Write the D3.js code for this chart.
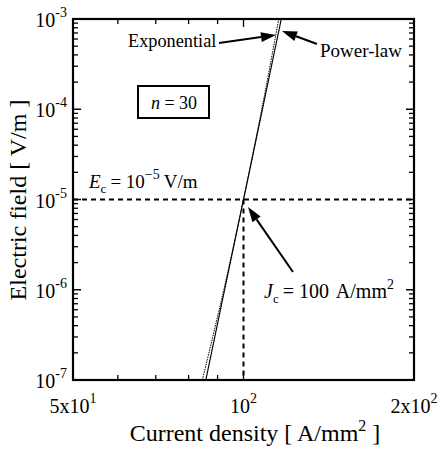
<!DOCTYPE html>
<html><head><meta charset="utf-8">
<script src="https://cdn.jsdelivr.net/npm/d3@7"></script>
<style>body{margin:0;background:#fff}svg{display:block}text{font-family:"Liberation Serif","Times New Roman",serif;fill:#000}</style>
</head><body>
<script>
// Data
const fieldLevels = [1e-7, 1e-6, 1e-5, 1e-4, 1e-3];           // E [V/m]
const powerLawJ   = [85.8, 92.6, 100, 108.0, 116.6];           // J [A/mm2]
const exponentialJ= [84.6, 92.3, 100, 107.7, 115.4];           // J [A/mm2]
const criticalE = 1e-5;
const criticalJ = 100;
const yTickExps = [-3, -4, -5, -6, -7];
const xTickLabels = [{v:50, pre:"5x10", sup:"1"}, {v:100, pre:"10", sup:"2"}, {v:200, pre:"2x10", sup:"2"}];
const xMinorTicks = [60, 70, 80, 90, 100];

const W = 444, H = 449;
const m = {l:73, r:414, t:19, b:380};
const svg = d3.select("body").append("svg").attr("width", W).attr("height", H);
const x = d3.scaleLog().domain([50, 200]).range([m.l, m.r]);
const y = d3.scaleLog().domain([1e-7, 1e-3]).range([m.b, m.t]);

// minor y ticks
const yMinor = [];
for (let e = -7; e < -3; e++) for (let k = 2; k <= 9; k++) yMinor.push(k * Math.pow(10, e));
const g = svg.append("g");
yMinor.forEach(v => {
  g.append("line").attr("x1", m.l).attr("x2", m.l + 5).attr("y1", y(v)).attr("y2", y(v)).attr("stroke", "#000").attr("stroke-width", 1.3);
  g.append("line").attr("x1", m.r).attr("x2", m.r - 5).attr("y1", y(v)).attr("y2", y(v)).attr("stroke", "#000").attr("stroke-width", 1.3);
});
yTickExps.forEach(e => {
  const v = Math.pow(10, e);
  g.append("line").attr("x1", m.l).attr("x2", m.l + 8).attr("y1", y(v)).attr("y2", y(v)).attr("stroke", "#000").attr("stroke-width", 1.5);
  g.append("line").attr("x1", m.r).attr("x2", m.r - 8).attr("y1", y(v)).attr("y2", y(v)).attr("stroke", "#000").attr("stroke-width", 1.5);
  const t = svg.append("text").attr("x", m.l - 6).attr("y", y(v) + 8).attr("text-anchor", "end").attr("font-size", 20);
  t.append("tspan").text("10");
  t.append("tspan").attr("dy", -10).attr("font-size", 14).text("-" + (-e));
});
xMinorTicks.forEach(v => {
  const len = v === 100 ? 8 : 5;
  g.append("line").attr("x1", x(v)).attr("x2", x(v)).attr("y1", m.b).attr("y2", m.b - len).attr("stroke", "#000").attr("stroke-width", 1.3);
  g.append("line").attr("x1", x(v)).attr("x2", x(v)).attr("y1", m.t).attr("y2", m.t + len).attr("stroke", "#000").attr("stroke-width", 1.3);
});
xTickLabels.forEach(d => {
  const t = svg.append("text").attr("x", x(d.v)).attr("y", 413).attr("text-anchor", "middle").attr("font-size", 20);
  t.append("tspan").text(d.pre);
  t.append("tspan").attr("dy", -10).attr("font-size", 14).text(d.sup);
});

// reference dashed lines
svg.append("line").attr("x1", m.l).attr("x2", m.r).attr("y1", y(criticalE)).attr("y2", y(criticalE))
  .attr("stroke", "#000").attr("stroke-width", 2).attr("stroke-dasharray", "5,4");
svg.append("line").attr("x1", x(criticalJ)).attr("x2", x(criticalJ)).attr("y1", y(criticalE)).attr("y2", m.b)
  .attr("stroke", "#000").attr("stroke-width", 2).attr("stroke-dasharray", "5,4");

// curves
const line = d3.line().x(d => x(d[0])).y(d => y(d[1])).curve(d3.curveMonotoneY);
svg.append("path").datum(exponentialJ.map((j, i) => [j, fieldLevels[i]]))
  .attr("d", line).attr("fill", "none").attr("stroke", "#000").attr("stroke-width", 1).attr("stroke-dasharray", "1.5,1");
svg.append("path").datum(powerLawJ.map((j, i) => [j, fieldLevels[i]]))
  .attr("d", line).attr("fill", "none").attr("stroke", "#000").attr("stroke-width", 1.2);

// frame
svg.append("rect").attr("x", m.l).attr("y", m.t).attr("width", m.r - m.l).attr("height", m.b - m.t)
  .attr("fill", "none").attr("stroke", "#000").attr("stroke-width", 2.2);

// arrows
function arrow(x1, y1, x2, y2) {
  const a = Math.atan2(y2 - y1, x2 - x1), L = 15, w = 5;
  const bx = x2 - L * Math.cos(a), by = y2 - L * Math.sin(a);
  svg.append("line").attr("x1", x1).attr("y1", y1).attr("x2", bx).attr("y2", by).attr("stroke", "#000").attr("stroke-width", 2);
  svg.append("path").attr("d", `M${x2},${y2}L${bx - w * Math.sin(a)},${by + w * Math.cos(a)}L${bx + w * Math.sin(a)},${by - w * Math.cos(a)}Z`).attr("fill", "#000");
}
arrow(219, 43, 276, 35);
arrow(317, 44, 282, 31);
arrow(293, 272, 248, 207);

// labels
svg.append("text").attr("x", 128).attr("y", 47).attr("font-size", 18.3).text("Exponential");
svg.append("text").attr("x", 320).attr("y", 57).attr("font-size", 19).text("Power-law");

svg.append("rect").attr("x", 138).attr("y", 86).attr("width", 71).attr("height", 32).attr("fill", "#fff").attr("stroke", "#000").attr("stroke-width", 2);
const nt = svg.append("text").attr("x", 174).attr("y", 109).attr("text-anchor", "middle").attr("font-size", 18);
nt.append("tspan").attr("font-style", "italic").text("n");
nt.append("tspan").text(" = 30");

const ec = svg.append("text").attr("x", 89).attr("y", 188).attr("font-size", 19);
ec.append("tspan").attr("font-style", "italic").text("E");
ec.append("tspan").attr("dy", 5).attr("font-size", 13).text("c");
ec.append("tspan").attr("dy", -5).attr("dx", 4).text("= ");
ec.append("tspan").text("10");
ec.append("tspan").attr("dy", -9).attr("font-size", 14).text("−5");
ec.append("tspan").attr("dy", 9).attr("dx", 4).text("V/m");

const jc = svg.append("text").attr("x", 264).attr("y", 298).attr("font-size", 20);
jc.append("tspan").attr("font-style", "italic").text("J");
jc.append("tspan").attr("dy", 5).attr("font-size", 13).text("c");
jc.append("tspan").attr("dy", -5).attr("dx", 4).text("= 100 ");
jc.append("tspan").attr("dx", 3).text("A/mm");
jc.append("tspan").attr("dy", -9).attr("font-size", 14).text("2");

// axis titles
const xt = svg.append("text").attr("x", 255).attr("y", 441).attr("text-anchor", "middle").attr("font-size", 24);
xt.append("tspan").text("Current density [ A/mm");
xt.append("tspan").attr("dy", -10).attr("font-size", 16).text("2");
xt.append("tspan").attr("dy", 10).text(" ]");

svg.append("text").attr("transform", "translate(26,200) rotate(-90)").attr("text-anchor", "middle").attr("font-size", 24)
  .text("Electric field [ V/m ]");
</script>
</body></html>
